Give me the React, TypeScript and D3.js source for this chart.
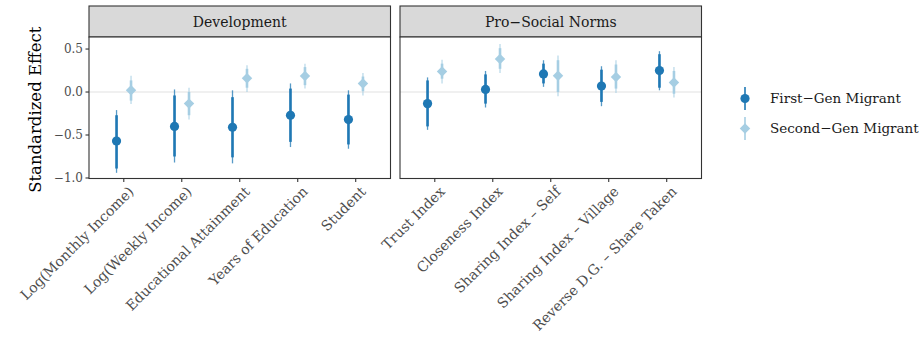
import React from 'react';
import * as d3 from 'd3';

// categories per facet
const devCats = ['Log(Monthly Income)', 'Log(Weekly Income)', 'Educational Attainment', 'Years of Education', 'Student'];
const socCats = ['Trust Index', 'Closeness Index', 'Sharing Index – Self', 'Sharing Index – Village', 'Reverse D.G. – Share Taken'];

// estimates, inner CI (lo/hi), outer CI (lo/hi)
const devFirst = [-0.57, -0.40, -0.41, -0.27, -0.32];
const devFirstLo = [-0.89, -0.75, -0.76, -0.58, -0.61];
const devFirstHi = [-0.27, -0.04, -0.06, 0.04, -0.03];
const devFirstLo2 = [-0.94, -0.82, -0.83, -0.64, -0.66];
const devFirstHi2 = [-0.21, 0.03, 0.02, 0.10, 0.02];

const devSecond = [0.02, -0.135, 0.16, 0.185, 0.10];
const devSecondLo = [-0.10, -0.27, 0.05, 0.08, 0.01];
const devSecondHi = [0.135, 0.0, 0.27, 0.29, 0.18];
const devSecondLo2 = [-0.14, -0.32, 0.0, 0.04, -0.04];
const devSecondHi2 = [0.19, 0.05, 0.31, 0.33, 0.22];

const socFirst = [-0.135, 0.03, 0.21, 0.07, 0.25];
const socFirstLo = [-0.40, -0.135, 0.10, -0.115, 0.05];
const socFirstHi = [0.135, 0.205, 0.33, 0.26, 0.44];
const socFirstLo2 = [-0.44, -0.18, 0.06, -0.165, 0.02];
const socFirstHi2 = [0.17, 0.245, 0.37, 0.30, 0.475];

const socSecond = [0.24, 0.385, 0.19, 0.175, 0.11];
const socSecondLo = [0.155, 0.27, 0.0, 0.04, -0.02];
const socSecondHi = [0.33, 0.51, 0.37, 0.32, 0.245];
const socSecondLo2 = [0.10, 0.22, -0.05, -0.01, -0.065];
const socSecondHi2 = [0.375, 0.56, 0.425, 0.37, 0.29];

const yTicks = [0.5, 0.0, -0.5, -1.0];
const facetNames = ['Development', 'Pro−Social Norms'];
const groupNames = ['First−Gen Migrant', 'Second−Gen Migrant'];
const colors = ['#1f78b4', '#a6cee3'];

const FONT = '"DejaVu Serif", serif';

type Row = { cat: string; est: number; lo: number; hi: number; lo2: number; hi2: number };
const rows = (cats: string[], est: number[], lo: number[], hi: number[], lo2: number[], hi2: number[]): Row[] =>
  cats.map((c, i) => ({ cat: c, est: est[i], lo: lo[i], hi: hi[i], lo2: lo2[i], hi2: hi2[i] }));

const facets = [
  { name: facetNames[0], cats: devCats, groups: [
    rows(devCats, devFirst, devFirstLo, devFirstHi, devFirstLo2, devFirstHi2),
    rows(devCats, devSecond, devSecondLo, devSecondHi, devSecondLo2, devSecondHi2),
  ], x0: 89, x1: 390.5 },
  { name: facetNames[1], cats: socCats, groups: [
    rows(socCats, socFirst, socFirstLo, socFirstHi, socFirstLo2, socFirstHi2),
    rows(socCats, socSecond, socSecondLo, socSecondHi, socSecondLo2, socSecondHi2),
  ], x0: 400, x1: 701.5 },
];

const stripTop = 6;
const panelTop = 37;
const panelBottom = 178.5;

const y = d3.scaleLinear().domain([-1.006, 0.64]).range([panelBottom, panelTop]);

const diamond = d3.symbol().type(d3.symbolDiamond2).size(70);

const Mark = ({ g, cx, cy }: { g: number; cx: number; cy: number }) =>
  g === 0
    ? <circle cx={cx} cy={cy} r={4.6} fill={colors[0]} />
    : <path d={diamond() || ''} transform={`translate(${cx},${cy})`} fill={colors[1]} />;

export default function App() {
  return (
    <svg width={919} height={341} style={{ position: 'absolute', left: 0, top: 0, background: 'white' }}>
      {facets.map((f, fi) => {
        const x = d3.scalePoint<string>().domain(f.cats).range([f.x0, f.x1]).padding(0.6);
        const dodge = x.step() * 0.125;
        return (
          <g key={fi}>
            {/* strip */}
            <rect x={f.x0} y={stripTop} width={f.x1 - f.x0} height={panelTop - stripTop} fill="#d9d9d9" stroke="#333" strokeWidth={1.1} />
            <text x={(f.x0 + f.x1) / 2} y={(stripTop + panelTop) / 2 + 5} textAnchor="middle" fontFamily={FONT} fontSize={14} fill="#1a1a1a">{f.name}</text>
            {/* panel */}
            <rect x={f.x0} y={panelTop} width={f.x1 - f.x0} height={panelBottom - panelTop} fill="white" />
            <line x1={f.x0} x2={f.x1} y1={y(0)} y2={y(0)} stroke="#ebebeb" strokeWidth={1.6} />
            {f.groups.map((rs, g) => (
              <g key={g}>
                {rs.map((r, i) => {
                  const cx = (x(r.cat) as number) + (g === 0 ? -dodge : dodge);
                  return (
                    <g key={i}>
                      <line x1={cx} x2={cx} y1={y(r.lo2)} y2={y(r.hi2)} stroke={colors[g]} strokeWidth={1.3} strokeOpacity={0.75} />
                      <line x1={cx} x2={cx} y1={y(r.lo)} y2={y(r.hi)} stroke={colors[g]} strokeWidth={2.6} />
                      <Mark g={g} cx={cx} cy={y(r.est)} />
                    </g>
                  );
                })}
              </g>
            ))}
            <rect x={f.x0} y={panelTop} width={f.x1 - f.x0} height={panelBottom - panelTop} fill="none" stroke="#333" strokeWidth={1.1} />
            {/* x ticks and labels */}
            {f.cats.map((c) => {
              const tx = x(c) as number;
              return (
                <g key={c}>
                  <line x1={tx} x2={tx} y1={panelBottom} y2={panelBottom + 3.5} stroke="#333" strokeWidth={1.1} />
                  <text transform={`translate(${tx + 4},${panelBottom + 7}) rotate(-45)`} textAnchor="end" dy="0.7em" fontFamily={FONT} fontSize={14} fill="#4d4d4d">{c}</text>
                </g>
              );
            })}
            {/* y axis on first facet */}
            {fi === 0 && yTicks.map((t) => (
              <g key={t}>
                <line x1={f.x0 - 3.5} x2={f.x0} y1={y(t)} y2={y(t)} stroke="#333" strokeWidth={1.1} />
                <text x={f.x0 - 6} y={y(t)} dy="0.35em" textAnchor="end" fontFamily={FONT} fontSize={12} fill="#4d4d4d">{d3.format('.1f')(t).replace('-', '−')}</text>
              </g>
            ))}
          </g>
        );
      })}
      <text transform={`translate(41,${(panelTop + panelBottom) / 2 + 2}) rotate(-90)`} textAnchor="middle" fontFamily={FONT} fontSize={16.5} fill="#000">Standardized Effect</text>
      {/* legend */}
      {groupNames.map((n, g) => {
        const ly = 98.5 + g * 30;
        const lx = 745;
        return (
          <g key={n}>
            <line x1={lx} x2={lx} y1={ly - 11.5} y2={ly + 11.5} stroke={colors[g]} strokeWidth={1.6} />
            <Mark g={g} cx={lx} cy={ly} />
            <text x={770} y={ly} dy="0.35em" fontFamily={FONT} fontSize={13.5} fill="#1a1a1a">{n}</text>
          </g>
        );
      })}
    </svg>
  );
}
